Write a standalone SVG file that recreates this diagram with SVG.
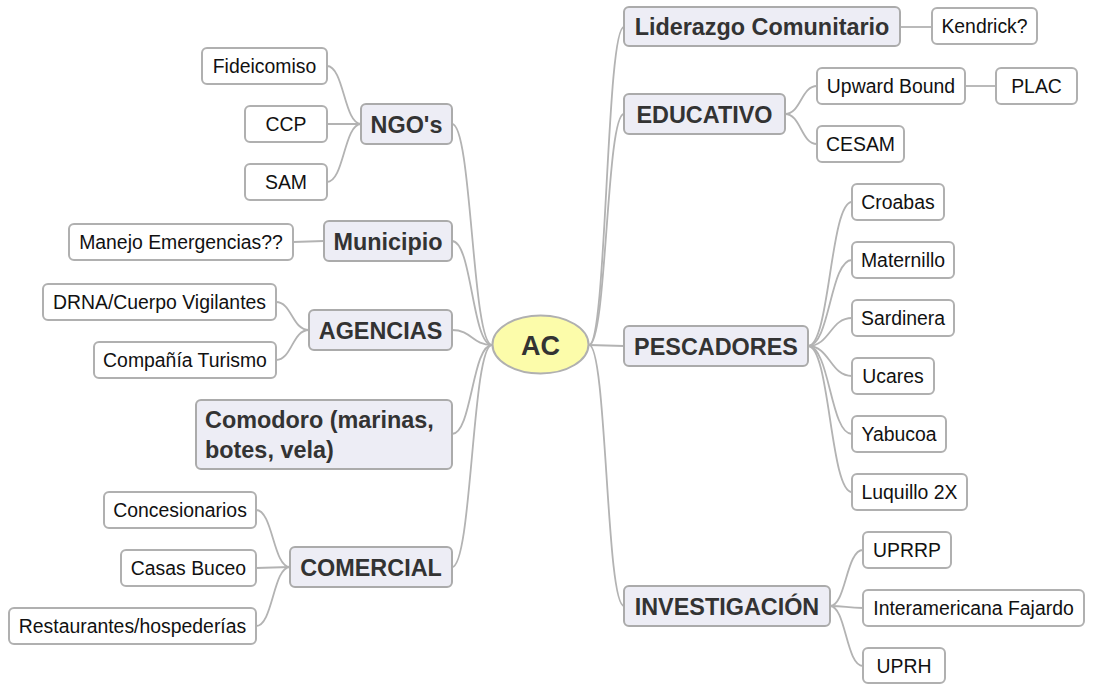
<svg xmlns="http://www.w3.org/2000/svg" width="1094" height="684" viewBox="0 0 1094 684">
<style>
.l1 rect{fill:#ededf5;stroke:#ababab;stroke-width:2}
.l1 text{font-family:"Liberation Sans",Arial,sans-serif;font-weight:bold;font-size:23.4px;fill:#333;text-anchor:middle}
.lf rect{fill:#fff;stroke:#b0b0b0;stroke-width:2}
.lf text{font-family:"Liberation Sans",Arial,sans-serif;font-size:19.4px;fill:#111;text-anchor:middle}
#conn path{fill:none;stroke:#b3b3b3;stroke-width:1.8}
</style>
<rect width="1094" height="684" fill="#fff"/>
<g id="conn">
<path d="M589,345 C607,345 606,27 624,27"/>
<path d="M589,345 C607,345 606,114 624,114"/>
<path d="M589,345 L624,346"/>
<path d="M589,345 C607,345 606,606 624,606"/>
<path d="M492,345 C472,345 472,124 452,124"/>
<path d="M492,345 C472,345 472,241 452,241"/>
<path d="M492,345 C472,345 472,330 452,330"/>
<path d="M492,345 C472,345 472,434 452,434"/>
<path d="M492,345 C472,345 472,567 452,567"/>
<path d="M900,27 L932,27"/>
<path d="M785,114 C801,114 801,86 817,86"/>
<path d="M785,114 C801,114 801,144 817,144"/>
<path d="M965,86 L996,86"/>
<path d="M808,346 C830,346 830,202 852,202"/>
<path d="M808,346 C830,346 830,260 852,260"/>
<path d="M808,346 C830,346 830,318 852,318"/>
<path d="M808,346 C830,346 830,376 852,376"/>
<path d="M808,346 C830,346 830,434 852,434"/>
<path d="M808,346 C830,346 830,492 852,492"/>
<path d="M830,606 C846,606 846,550 863,550"/>
<path d="M830,606 C846,606 846,608 863,608"/>
<path d="M830,606 C846,606 846,666 863,666"/>
<path d="M361,124 C344,124 344,66 327,66"/>
<path d="M361,124 L327,124"/>
<path d="M361,124 C344,124 344,182 327,182"/>
<path d="M324,241 L293,242"/>
<path d="M309,330 C292,330 292,302 276,302"/>
<path d="M309,330 C292,330 292,360 276,360"/>
<path d="M290,567 C273,567 273,510 256,510"/>
<path d="M290,567 L256,568"/>
<path d="M290,567 C273,567 273,626 256,626"/>
</g>
<g id="AC">
<ellipse cx="540.5" cy="344.5" rx="48" ry="29" fill="#fcfcaa" stroke="#b0b0b0" stroke-width="2"/>
<text x="540.5" y="354.5" font-family="Liberation Sans,Arial,sans-serif" font-weight="bold" font-size="27" fill="#333" text-anchor="middle">AC</text>
</g>
<g id="liderazgo" class="l1"><rect x="624" y="7" width="276" height="39" rx="5"/><text x="762" y="35">Liderazgo Comunitario</text></g>
<g id="educativo" class="l1"><rect x="624" y="94" width="161" height="40" rx="5"/><text x="704.5" y="122.5">EDUCATIVO</text></g>
<g id="pescadores" class="l1"><rect x="624" y="326" width="184" height="40" rx="5"/><text x="716" y="354.5">PESCADORES</text></g>
<g id="investigacion" class="l1"><rect x="624" y="586" width="206" height="40" rx="5"/><text x="727" y="614.5">INVESTIGACIÓN</text></g>
<g id="ngos" class="l1"><rect x="361" y="104" width="91" height="40" rx="5"/><text x="406.5" y="132.5">NGO's</text></g>
<g id="municipio" class="l1"><rect x="324" y="221" width="128" height="40" rx="5"/><text x="388" y="249.5">Municipio</text></g>
<g id="agencias" class="l1"><rect x="309" y="310" width="143" height="40" rx="5"/><text x="380.5" y="338.5">AGENCIAS</text></g>
<g id="comodoro" class="l1"><rect x="196" y="400" width="256" height="69" rx="5"/><text x="205" y="428" style="text-anchor:start">Comodoro (marinas,</text><text x="205" y="458" style="text-anchor:start">botes, vela)</text></g>
<g id="comercial" class="l1"><rect x="290" y="547" width="162" height="40" rx="5"/><text x="371" y="575.5">COMERCIAL</text></g>
<g id="kendrick" class="lf"><rect x="932" y="8" width="105" height="36" rx="5"/><text x="984.5" y="33">Kendrick?</text></g>
<g id="upward" class="lf"><rect x="817" y="68" width="148" height="36" rx="5"/><text x="891" y="93">Upward Bound</text></g>
<g id="plac" class="lf"><rect x="996" y="68" width="81" height="36" rx="5"/><text x="1036.5" y="93">PLAC</text></g>
<g id="cesam" class="lf"><rect x="817" y="126" width="87" height="36" rx="5"/><text x="860.5" y="151">CESAM</text></g>
<g id="croabas" class="lf"><rect x="852" y="184" width="92" height="36" rx="5"/><text x="898" y="209">Croabas</text></g>
<g id="maternillo" class="lf"><rect x="852" y="242" width="102" height="36" rx="5"/><text x="903" y="267">Maternillo</text></g>
<g id="sardinera" class="lf"><rect x="852" y="300" width="102" height="36" rx="5"/><text x="903" y="325">Sardinera</text></g>
<g id="ucares" class="lf"><rect x="852" y="358" width="82" height="36" rx="5"/><text x="893" y="383">Ucares</text></g>
<g id="yabucoa" class="lf"><rect x="852" y="416" width="94" height="36" rx="5"/><text x="899" y="441">Yabucoa</text></g>
<g id="luquillo" class="lf"><rect x="852" y="474" width="115" height="36" rx="5"/><text x="909.5" y="499">Luquillo 2X</text></g>
<g id="uprrp" class="lf"><rect x="863" y="532" width="88" height="36" rx="5"/><text x="907" y="557">UPRRP</text></g>
<g id="interamericana" class="lf"><rect x="863" y="590" width="221" height="36" rx="5"/><text x="973.5" y="615">Interamericana Fajardo</text></g>
<g id="uprh" class="lf"><rect x="863" y="648" width="82" height="35" rx="5"/><text x="904" y="673">UPRH</text></g>
<g id="fideicomiso" class="lf"><rect x="202" y="48" width="125" height="36" rx="5"/><text x="264.5" y="73">Fideicomiso</text></g>
<g id="ccp" class="lf"><rect x="245" y="106" width="82" height="36" rx="5"/><text x="286" y="131">CCP</text></g>
<g id="sam" class="lf"><rect x="245" y="164" width="82" height="36" rx="5"/><text x="286" y="189">SAM</text></g>
<g id="manejo" class="lf"><rect x="69" y="224" width="224" height="36" rx="5"/><text x="181" y="249">Manejo Emergencias??</text></g>
<g id="drna" class="lf"><rect x="43" y="284" width="233" height="36" rx="5"/><text x="159.5" y="309">DRNA/Cuerpo Vigilantes</text></g>
<g id="compania" class="lf"><rect x="94" y="342" width="182" height="36" rx="5"/><text x="185" y="367">Compañía Turismo</text></g>
<g id="concesionarios" class="lf"><rect x="104" y="492" width="152" height="36" rx="5"/><text x="180" y="517">Concesionarios</text></g>
<g id="casas" class="lf"><rect x="121" y="550" width="135" height="36" rx="5"/><text x="188.5" y="575">Casas Buceo</text></g>
<g id="restaurantes" class="lf"><rect x="9" y="608" width="247" height="36" rx="5"/><text x="132.5" y="633">Restaurantes/hospederías</text></g>
</svg>
